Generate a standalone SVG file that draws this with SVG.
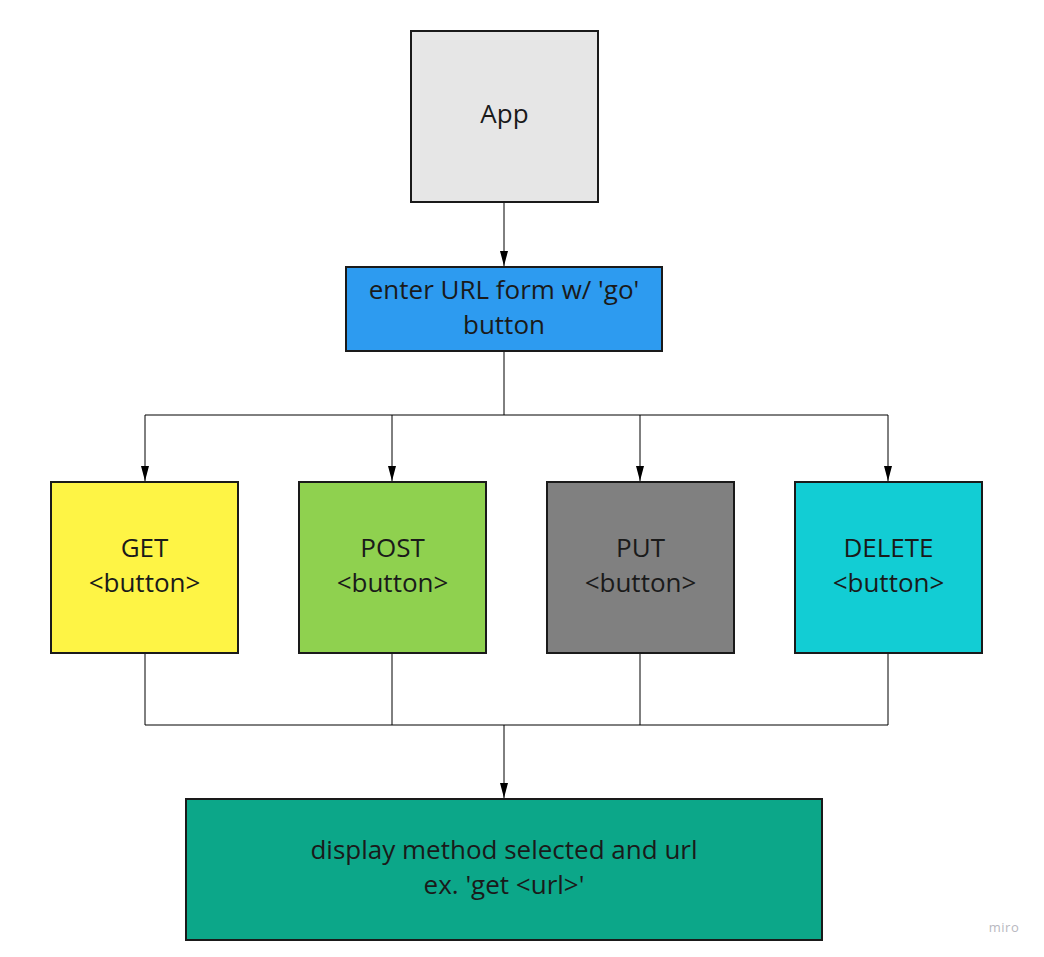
<svg xmlns="http://www.w3.org/2000/svg" width="1044" height="957" viewBox="0 0 1044 957">
<defs>
<marker id="arr" viewBox="0 0 15 10" refX="15" refY="5" markerWidth="15" markerHeight="10" markerUnits="userSpaceOnUse" orient="auto">
<path d="M0,1 L15,5 L0,9 z" fill="#000"/>
</marker>
</defs>
<style>
.box{stroke:#1a1a1a;stroke-width:2}
.t{font-family:"Open Sans","Liberation Sans",sans-serif;font-size:26px;fill:#1a1a1a;text-anchor:middle}
.c{fill:none;stroke:#000;stroke-width:1}
</style>
<rect width="1044" height="957" fill="#fff"/>
<g id="connectors">
<path class="c" d="M504,202 V266" marker-end="url(#arr)"/>
<path class="c" d="M504,351 V415"/>
<path class="c" d="M145,415 H888"/>
<path class="c" d="M145,415 V481" marker-end="url(#arr)"/>
<path class="c" d="M392,415 V481" marker-end="url(#arr)"/>
<path class="c" d="M640,415 V481" marker-end="url(#arr)"/>
<path class="c" d="M888,415 V481" marker-end="url(#arr)"/>
<path class="c" d="M145,653 V725 H888 V653"/>
<path class="c" d="M392,653 V725"/>
<path class="c" d="M640,653 V725"/>
<path class="c" d="M504,725 V798" marker-end="url(#arr)"/>
</g>
<g id="app">
<rect class="box" x="411" y="31" width="187" height="171" fill="#e6e6e6"/>
<text class="t" x="504.5" y="123">App</text>
</g>
<g id="url-form">
<rect class="box" x="346" y="267" width="316" height="84" fill="#2d9bf0"/>
<text class="t" x="504" y="299">enter URL form w/ 'go'</text>
<text class="t" x="504" y="334">button</text>
</g>
<g id="get">
<rect class="box" x="51" y="482" width="187" height="171" fill="#fef445"/>
<text class="t" x="144.5" y="557">GET</text>
<text class="t" x="144.5" y="592">&lt;button&gt;</text>
</g>
<g id="post">
<rect class="box" x="299" y="482" width="187" height="171" fill="#8fd14f"/>
<text class="t" x="392.5" y="557">POST</text>
<text class="t" x="392.5" y="592">&lt;button&gt;</text>
</g>
<g id="put">
<rect class="box" x="547" y="482" width="187" height="171" fill="#808080"/>
<text class="t" x="640.5" y="557">PUT</text>
<text class="t" x="640.5" y="592">&lt;button&gt;</text>
</g>
<g id="delete">
<rect class="box" x="795" y="482" width="187" height="171" fill="#12cdd4"/>
<text class="t" x="888.5" y="557">DELETE</text>
<text class="t" x="888.5" y="592">&lt;button&gt;</text>
</g>
<g id="display">
<rect class="box" x="186" y="799" width="636" height="141" fill="#0ca789"/>
<text class="t" x="504" y="859">display method selected and url</text>
<text class="t" x="504" y="894">ex. 'get &lt;url&gt;'</text>
</g>
<text x="1004" y="932" font-family="'Open Sans','Liberation Sans',sans-serif" font-size="13" fill="#b8b8c0" text-anchor="middle" letter-spacing="0.5">miro</text>
</svg>
